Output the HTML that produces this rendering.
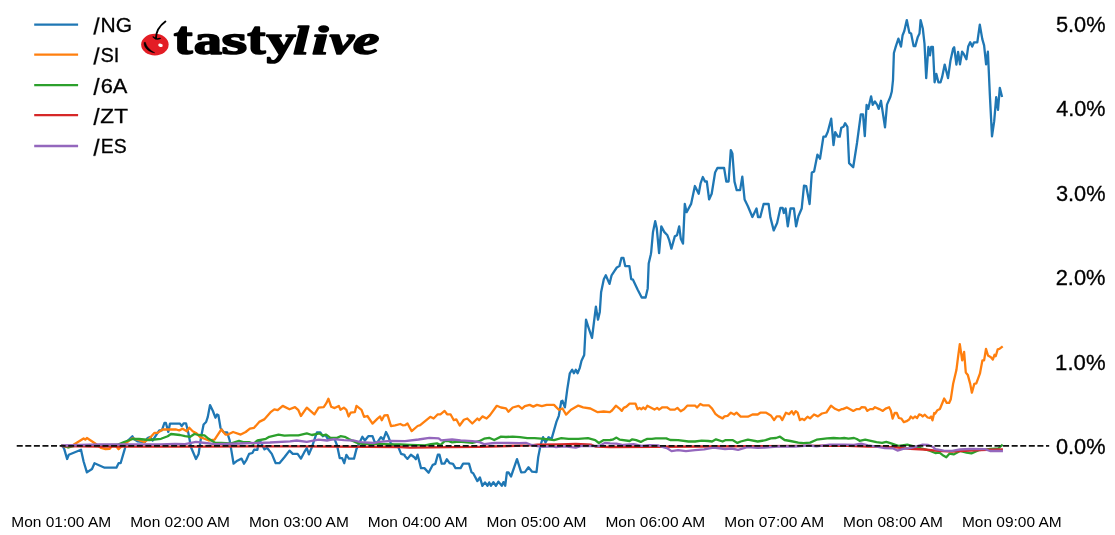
<!DOCTYPE html>
<html><head><meta charset="utf-8"><style>
html,body{margin:0;padding:0;background:#fff;}
body{width:1115px;height:535px;overflow:hidden;}
svg{display:block;}
text{font-family:"Liberation Sans",sans-serif;fill:#000;}
.t{filter:grayscale(1);}
</style></head><body>
<svg width="1115" height="535" viewBox="0 0 1115 535">
<rect width="1115" height="535" fill="#fff"/>

<g fill="none" stroke-width="2.30" stroke-linejoin="round" stroke-linecap="square">
<polyline stroke="#1f77b4" points="62.5,445.5 64.2,448.9 67.1,459.0 68.8,454.8 81.0,449.7 83.6,461.5 86.9,472.4 92.0,469.0 94.5,463.2 104.6,467.7 116.4,467.7 118.6,463.2 120.6,463.2 124.8,448.9 126.5,442.0 132.4,436.2 134.0,439.0 137.4,441.3 145.0,442.0 147.5,438.0 150.0,437.0 152.6,440.5 156.0,435.4 159.3,430.4 161.9,430.4 164.4,423.0 165.9,423.0 168.3,432.0 170.0,423.6 180.0,423.6 181.7,426.1 183.8,423.3 186.0,423.3 188.5,433.7 191.0,447.2 196.0,459.0 198.6,454.0 201.1,437.0 203.6,424.5 206.1,422.0 207.8,416.9 210.0,405.1 212.9,411.0 215.4,417.7 217.1,414.4 218.4,415.2 220.5,427.8 223.8,432.4 227.2,432.4 229.7,440.5 231.4,450.6 233.6,463.7 237.3,460.7 241.5,458.6 244.0,463.7 246.5,459.8 249.1,453.9 252.4,453.0 254.1,449.7 257.4,449.8 258.7,441.8 260.5,441.8 264.5,449.4 267.0,447.7 271.8,453.9 275.7,463.2 279.4,463.2 284.4,457.3 289.5,450.6 292.8,453.9 293.4,453.9 297.6,453.9 300.9,458.6 304.3,452.2 306.8,448.0 308.9,454.3 311.9,447.2 314.4,439.6 316.9,432.4 320.3,432.4 322.8,436.2 325.4,435.0 327.9,439.1 334.6,439.1 337.1,445.5 339.7,458.1 342.2,458.1 344.2,463.2 346.4,454.8 348.9,458.6 354.0,458.6 356.5,448.9 359.0,443.8 362.4,436.8 364.9,440.5 368.3,436.2 372.5,436.2 375.0,443.0 377.5,442.1 380.9,437.1 383.4,439.6 386.0,432.0 388.5,437.1 391.0,443.8 394.4,445.5 397.7,445.5 401.1,453.9 404.5,454.8 405.0,456.3 407.5,458.9 410.9,454.7 414.3,457.2 415.9,459.2 417.6,454.7 421.0,468.1 424.4,468.1 428.6,472.7 432.8,464.8 435.3,463.9 437.8,454.7 439.5,454.7 441.7,463.6 444.6,463.6 446.8,459.2 449.6,463.1 453.0,463.9 455.5,468.1 460.6,468.1 463.1,463.6 469.0,463.6 471.5,472.3 473.2,473.2 477.4,481.1 479.9,477.4 482.4,485.8 485.0,482.4 487.5,485.8 489.2,482.4 490.9,485.8 493.4,482.1 495.9,485.8 498.4,481.6 501.8,485.8 503.5,482.1 505.2,485.8 506.9,472.3 508.5,472.3 511.0,476.5 517.0,459.2 521.2,472.3 524.9,472.1 528.5,467.3 532.1,471.7 536.5,472.1 538.2,457.1 540.6,445.0 543.1,437.2 545.5,442.5 548.6,437.2 551.6,438.9 554.0,430.4 556.4,421.9 558.8,415.8 561.3,401.3 562.5,400.8 564.9,407.3 567.3,389.1 569.8,373.3 572.2,369.7 573.9,373.3 575.8,369.7 577.6,373.3 579.7,368.1 581.5,360.8 584.2,355.0 586.0,319.7 588.1,326.3 592.0,338.0 595.9,306.7 598.0,319.7 599.8,311.9 601.1,292.3 603.8,279.2 605.8,275.3 609.5,283.9 611.6,275.3 614.2,271.4 616.8,267.5 619.4,266.1 621.5,257.8 623.4,257.8 625.2,266.1 629.4,266.1 631.2,279.2 633.0,279.7 637.7,289.7 641.7,297.5 645.6,297.5 647.7,288.4 648.7,263.5 650.8,254.4 651.2,252.1 653.0,231.9 655.2,221.2 656.8,228.6 659.1,253.2 661.3,226.3 664.2,231.9 667.4,235.3 669.1,239.8 671.4,248.7 674.8,236.4 677.0,235.3 679.2,226.3 680.8,238.7 683.0,243.6 684.8,203.9 686.6,212.2 691.1,203.9 694.9,186.0 698.7,193.8 700.5,183.7 702.8,177.0 705.0,181.5 706.8,181.5 709.1,199.4 711.7,193.8 715.1,172.5 717.4,168.0 724.1,168.0 726.3,181.5 728.6,181.5 730.8,150.1 732.4,153.5 734.5,181.6 736.7,190.1 740.1,190.1 742.3,176.6 744.6,199.5 747.9,206.2 752.4,217.0 756.5,208.5 758.0,217.0 760.3,217.0 763.6,204.0 768.6,204.0 770.4,217.4 773.7,230.4 777.1,223.0 780.4,208.0 782.7,208.0 783.8,213.0 785.6,208.5 787.8,226.4 790.5,208.5 793.9,208.5 796.1,226.4 798.4,216.3 801.7,208.5 804.0,185.6 806.2,186.1 809.6,204.0 811.8,172.6 814.1,171.5 817.4,154.7 819.7,158.0 820.0,158.7 823.4,136.7 825.6,136.7 827.8,131.7 831.2,118.7 833.5,145.2 835.2,132.2 837.9,136.7 839.7,136.7 841.3,127.7 843.5,126.8 845.1,123.2 847.4,126.8 849.1,163.1 853.2,167.2 857.0,143.0 860.8,114.3 863.0,114.3 864.8,136.2 866.6,104.8 868.2,108.9 871.1,96.3 872.7,104.8 874.9,101.5 877.2,104.8 878.7,108.9 881.0,100.8 885.0,127.3 887.0,104.6 890.4,96.8 891.8,91.5 893.0,80.0 893.9,53.0 895.9,46.1 898.4,38.6 901.0,46.6 902.6,35.2 904.3,31.0 906.8,20.1 908.5,28.5 909.4,32.7 911.1,33.5 913.6,46.1 915.3,46.1 917.8,36.9 919.5,33.5 920.6,20.1 922.8,28.5 924.5,43.6 926.2,78.1 928.4,47.0 930.0,55.4 931.2,47.0 932.9,47.0 934.6,82.3 936.3,73.9 938.4,82.3 940.5,82.3 942.1,77.2 944.7,64.6 948.0,78.1 950.5,60.4 953.1,48.7 954.2,47.3 956.4,64.6 958.1,52.0 960.0,64.3 962.1,51.7 963.9,54.2 966.4,59.3 968.2,46.6 970.2,42.3 972.2,46.6 974.0,42.3 977.3,42.3 979.8,24.7 982.3,39.1 984.1,45.4 986.1,64.3 987.9,51.7 989.9,95.9 992.0,136.4 994.2,121.2 996.2,97.2 998.0,109.8 999.8,87.8 1001.8,95.9"/>
<polyline stroke="#ff7f0e" points="62.5,445.5 67.6,447.2 73.5,444.7 83.6,438.4 85.3,439.6 86.9,438.0 94.5,443.0 101.2,448.0 105.5,449.2 109.7,448.9 112.2,445.5 115.6,445.5 118.6,449.2 120.6,447.2 127.3,442.0 132.4,438.4 137.4,439.6 144.2,442.0 149.2,438.8 154.3,432.9 157.6,432.9 162.7,429.5 176.2,429.5 179.2,430.4 182.6,428.7 186.8,431.2 189.3,427.8 192.7,431.2 196.0,432.9 200.3,437.1 204.5,438.8 208.7,440.5 214.6,439.6 217.9,434.6 221.3,429.5 225.5,434.6 228.0,434.6 233.1,432.0 240.7,434.6 245.7,432.0 249.9,428.7 254.1,427.8 259.2,421.9 264.2,419.4 271.0,411.8 274.3,409.3 277.7,410.2 282.7,405.9 289.5,409.3 295.0,407.1 298.4,410.2 300.9,416.0 306.8,407.6 314.4,414.4 318.6,407.6 323.7,407.1 326.2,403.4 328.4,398.7 331.2,406.8 334.6,408.1 338.8,405.9 340.5,409.8 343.9,407.6 346.4,409.8 348.6,416.5 350.6,412.7 354.8,412.2 356.5,405.9 361.5,409.8 364.1,416.9 367.4,416.0 372.5,423.6 375.0,421.1 377.5,418.6 380.1,416.5 381.8,420.3 384.3,415.5 387.6,415.2 391.0,426.1 395.2,425.3 400.3,424.0 402.8,425.3 405.0,425.2 407.5,423.5 411.7,431.1 417.6,426.0 420.2,425.2 430.3,416.8 433.6,418.5 437.8,414.3 440.4,414.3 444.6,410.9 447.1,414.3 450.5,414.3 453.8,420.2 456.3,419.3 459.7,425.5 463.9,419.8 467.3,418.5 472.3,423.5 477.4,418.5 479.1,420.2 482.4,416.4 486.6,418.5 490.0,415.1 496.8,405.8 501.0,407.5 506.0,408.4 508.5,411.7 512.7,407.5 518.6,405.8 522.0,408.7 524.9,406.1 529.7,404.9 533.3,406.6 537.0,404.9 541.8,406.1 546.7,404.9 554.0,404.9 558.8,409.8 562.5,408.5 566.1,414.6 571.0,409.8 578.3,405.6 583.1,407.3 590.4,408.5 597.7,412.2 603.7,411.5 609.8,412.2 612.0,410.5 615.9,405.7 619.2,408.3 621.8,410.9 623.7,407.9 626.4,406.6 629.6,403.6 635.5,403.6 637.5,409.2 639.5,407.9 641.4,409.2 643.4,407.5 645.3,409.2 647.3,405.7 650.6,407.5 654.5,409.6 657.1,407.9 659.1,409.6 662.4,407.3 666.9,407.3 670.2,409.6 674.8,409.6 677.4,407.9 680.7,411.2 684.0,409.2 687.2,405.7 695.1,405.7 697.0,407.5 700.3,404.0 702.9,405.3 708.8,405.3 712.1,408.6 715.4,413.8 718.6,416.4 722.6,418.4 724.5,416.4 727.6,415.8 730.9,412.7 734.2,414.5 736.5,412.7 740.7,416.7 747.9,416.7 752.5,414.5 757.7,414.5 760.3,412.7 766.2,412.7 770.8,415.4 774.1,420.1 776.7,416.4 780.0,416.4 782.3,420.1 785.9,412.7 789.1,414.1 791.8,411.2 793.7,414.5 795.7,411.2 797.6,412.7 799.9,420.1 802.2,418.8 804.2,420.1 807.5,416.7 810.1,418.4 814.0,414.5 817.9,416.4 821.9,413.5 826.4,412.5 831.0,405.7 835.0,408.8 838.9,410.5 841.5,409.2 842.8,409.1 847.0,407.4 853.3,410.9 856.8,409.1 859.6,409.1 861.7,407.2 865.2,407.4 867.3,410.9 870.1,409.1 872.9,409.1 875.0,407.2 879.3,409.1 882.8,410.9 885.6,408.6 889.1,407.2 890.8,410.5 892.6,418.6 894.7,413.0 896.8,413.0 898.9,418.0 901.4,418.6 903.8,422.2 906.6,421.2 909.4,419.3 910.8,416.5 912.9,418.4 915.0,416.5 917.1,418.0 919.2,414.4 921.3,415.1 922.7,416.5 924.8,414.7 927.6,417.5 929.7,418.0 931.1,416.5 932.5,420.3 934.2,413.0 935.0,413.8 937.4,410.2 939.9,409.0 944.2,398.5 946.7,402.9 949.1,402.9 950.8,399.2 953.2,383.4 956.4,370.1 958.1,356.7 959.8,344.1 962.2,360.4 964.1,351.9 965.8,372.5 967.8,374.9 970.2,383.9 971.9,392.7 974.3,383.9 976.3,383.4 979.9,373.7 982.4,360.4 984.1,360.4 986.0,348.9 988.0,355.5 990.9,357.2 992.8,359.6 994.5,354.8 995.7,356.2 997.7,349.4 999.4,348.9 1001.8,347.0"/>
<polyline stroke="#2ca02c" points="62.5,445.5 68.4,447.5 76.8,445.5 117.0,445.0 124.0,442.0 132.4,439.0 139.0,439.0 149.2,440.0 161.0,438.8 167.7,436.2 171.0,434.0 180.0,435.0 185.1,436.2 190.2,436.8 194.4,434.0 198.6,435.0 204.5,435.4 208.7,438.8 215.4,443.0 221.3,443.0 230.6,443.5 239.0,440.8 243.2,442.1 249.1,442.1 253.3,443.8 257.5,440.5 265.9,438.8 269.3,436.8 278.5,434.6 284.4,435.7 290.0,435.4 298.4,435.4 306.8,433.4 311.9,435.0 319.5,433.4 322.8,435.4 326.2,434.6 330.4,437.9 337.1,437.9 340.5,436.2 344.7,436.8 348.9,439.1 357.3,443.0 362.4,443.8 374.2,443.8 384.3,444.2 391.0,444.5 400.0,444.4 410.0,444.8 425.0,445.4 431.0,444.1 437.0,443.4 440.4,445.1 444.6,441.2 448.8,441.2 452.1,442.4 458.9,441.7 467.3,442.4 472.3,442.9 479.1,441.2 484.1,438.7 489.2,437.8 494.2,440.0 501.0,436.6 506.0,437.0 512.7,436.6 520.0,437.2 527.3,438.2 534.6,438.2 544.3,438.9 554.0,440.1 561.3,438.2 568.5,438.9 578.3,438.9 588.0,438.2 595.2,440.1 598.9,443.0 603.7,440.1 610.0,440.0 612.6,439.7 616.5,437.6 619.8,439.7 629.6,441.0 632.3,439.3 636.2,440.2 640.8,441.9 644.0,440.2 647.3,438.9 651.9,438.9 655.8,438.4 666.3,438.4 670.2,440.0 678.1,440.2 688.5,441.5 695.1,441.5 701.6,440.6 708.2,441.0 712.1,441.5 716.0,439.3 722.6,441.5 725.2,440.2 732.9,440.2 737.4,442.9 740.7,441.5 747.9,439.7 757.7,441.5 765.6,440.2 770.8,438.4 776.0,438.0 780.0,436.7 784.6,440.0 790.4,441.0 798.3,442.6 803.5,443.2 810.1,442.6 816.6,439.7 827.1,438.4 833.6,438.0 840.0,438.3 844.2,438.0 848.4,438.6 854.0,438.0 856.8,439.0 859.6,440.8 865.2,439.7 870.8,440.8 876.5,442.2 882.1,442.8 886.3,441.8 891.9,443.6 898.9,446.0 907.3,444.6 912.9,446.0 921.3,448.4 929.7,450.6 935.3,453.0 939.5,452.6 943.7,455.8 946.3,457.2 949.4,453.7 953.6,454.4 960.0,450.9 966.6,452.7 971.4,453.4 978.7,450.2 990.9,449.0 998.2,448.5 1001.8,445.4"/>
<polyline stroke="#d62728" points="62.5,446.0 100.0,446.6 200.0,446.6 300.0,446.3 400.0,447.0 410.0,447.6 450.0,447.2 480.0,446.8 508.7,446.0 530.2,445.3 537.4,444.6 560.0,444.3 575.7,443.8 591.4,444.7 595.9,446.7 610.0,447.0 700.0,446.5 840.0,445.6 868.0,446.7 882.1,446.7 896.1,447.4 910.1,448.8 924.1,449.5 938.1,450.9 952.2,451.6 960.0,451.2 980.0,450.0 1001.8,449.5"/>
<polyline stroke="#9467bd" points="62.5,445.5 80.0,445.0 100.0,444.5 130.0,444.5 160.0,444.3 175.0,443.8 185.0,444.2 196.0,441.8 205.3,443.0 215.4,444.2 240.0,443.5 270.0,442.5 290.0,441.3 296.7,440.5 306.8,441.8 318.6,439.6 327.0,440.5 333.8,439.1 343.9,440.1 354.0,440.5 360.7,442.1 374.2,443.0 379.2,441.8 391.0,440.8 405.0,441.2 418.5,439.5 429.4,437.8 438.7,438.3 441.2,440.4 452.1,439.5 460.6,440.4 472.3,441.2 479.1,442.0 484.1,444.1 494.2,443.0 508.7,442.8 519.5,443.2 525.9,442.8 531.6,445.0 537.4,446.0 543.1,446.8 551.7,446.4 556.0,447.1 564.5,446.3 575.7,447.6 581.5,445.8 590.5,446.0 599.0,446.0 604.8,442.9 610.0,443.4 616.5,443.6 623.1,445.0 633.6,444.2 641.4,445.9 649.3,445.2 658.4,445.5 662.4,446.8 667.6,448.5 671.5,451.1 678.1,450.2 685.9,451.1 695.1,450.2 704.2,449.4 713.4,447.6 721.3,448.5 725.0,449.1 731.5,448.5 738.1,449.8 747.3,447.2 757.7,447.8 764.3,447.6 777.4,446.5 794.4,446.5 808.8,445.5 816.6,446.3 829.7,444.6 845.0,444.6 854.0,445.0 861.0,443.6 868.0,445.3 876.5,446.7 884.9,448.1 893.3,448.4 897.5,450.6 903.1,448.8 910.1,448.1 915.7,446.7 922.7,444.6 928.3,445.0 932.5,446.7 935.3,449.2 943.7,450.6 952.2,450.9 960.0,449.5 970.0,449.0 985.0,449.2 990.0,451.0 1001.8,451.0"/>
</g>
<line x1="16.73" y1="445.9" x2="1049.2" y2="445.9" stroke="#111" stroke-width="1.7" stroke-dasharray="6.0 2.577"/>
<g class="t" stroke="#000" stroke-width="0.3">
<text x="1055.95" y="454.00" font-size="21.20" textLength="49.63" lengthAdjust="spacingAndGlyphs">0.0%</text>
<text x="1055.11" y="369.50" font-size="21.20" textLength="50.48" lengthAdjust="spacingAndGlyphs">1.0%</text>
<text x="1055.70" y="284.60" font-size="21.20" textLength="49.88" lengthAdjust="spacingAndGlyphs">2.0%</text>
<text x="1055.97" y="200.60" font-size="21.20" textLength="49.60" lengthAdjust="spacingAndGlyphs">3.0%</text>
<text x="1056.30" y="116.00" font-size="21.20" textLength="49.27" lengthAdjust="spacingAndGlyphs">4.0%</text>
<text x="1055.93" y="32.20" font-size="21.20" textLength="49.65" lengthAdjust="spacingAndGlyphs">5.0%</text>
<text x="11.34" y="526.70" font-size="14.50" textLength="99.82" lengthAdjust="spacingAndGlyphs" stroke-width="0">Mon 01:00 AM</text>
<text x="130.16" y="526.70" font-size="14.50" textLength="99.82" lengthAdjust="spacingAndGlyphs" stroke-width="0">Mon 02:00 AM</text>
<text x="248.98" y="526.70" font-size="14.50" textLength="99.82" lengthAdjust="spacingAndGlyphs" stroke-width="0">Mon 03:00 AM</text>
<text x="367.80" y="526.70" font-size="14.50" textLength="99.82" lengthAdjust="spacingAndGlyphs" stroke-width="0">Mon 04:00 AM</text>
<text x="486.62" y="526.70" font-size="14.50" textLength="99.82" lengthAdjust="spacingAndGlyphs" stroke-width="0">Mon 05:00 AM</text>
<text x="605.44" y="526.70" font-size="14.50" textLength="99.82" lengthAdjust="spacingAndGlyphs" stroke-width="0">Mon 06:00 AM</text>
<text x="724.26" y="526.70" font-size="14.50" textLength="99.82" lengthAdjust="spacingAndGlyphs" stroke-width="0">Mon 07:00 AM</text>
<text x="843.08" y="526.70" font-size="14.50" textLength="99.82" lengthAdjust="spacingAndGlyphs" stroke-width="0">Mon 08:00 AM</text>
<text x="961.90" y="526.70" font-size="14.50" textLength="99.82" lengthAdjust="spacingAndGlyphs" stroke-width="0">Mon 09:00 AM</text>
<polygon points="93.4,34.45 95.3,34.45 99.6,17.45 97.7,17.45" fill="#000"/>
<text x="100.58" y="32.05" font-size="20.90" textLength="31.49" lengthAdjust="spacingAndGlyphs">NG</text>
<polygon points="93.4,64.45 95.3,64.45 99.6,47.45 97.7,47.45" fill="#000"/>
<text x="100.49" y="62.05" font-size="20.90" textLength="18.96" lengthAdjust="spacingAndGlyphs">SI</text>
<polygon points="93.4,94.95 95.3,94.95 99.6,77.95 97.7,77.95" fill="#000"/>
<text x="100.69" y="92.55" font-size="20.90" textLength="26.75" lengthAdjust="spacingAndGlyphs">6A</text>
<polygon points="93.4,125.05 95.3,125.05 99.6,108.05 97.7,108.05" fill="#000"/>
<text x="100.38" y="122.65" font-size="20.90" textLength="27.53" lengthAdjust="spacingAndGlyphs">ZT</text>
<polygon points="93.4,155.85 95.3,155.85 99.6,138.85 97.7,138.85" fill="#000"/>
<text x="100.71" y="153.45" font-size="20.90" textLength="25.88" lengthAdjust="spacingAndGlyphs">ES</text>
</g>
<line x1="34.2" y1="24.6" x2="78.1" y2="24.6" stroke="#1f77b4" stroke-width="2.3"/>
<line x1="34.2" y1="54.6" x2="78.1" y2="54.6" stroke="#ff7f0e" stroke-width="2.3"/>
<line x1="34.2" y1="85.1" x2="78.1" y2="85.1" stroke="#2ca02c" stroke-width="2.3"/>
<line x1="34.2" y1="115.2" x2="78.1" y2="115.2" stroke="#d62728" stroke-width="2.3"/>
<line x1="34.2" y1="146.0" x2="78.1" y2="146.0" stroke="#9467bd" stroke-width="2.3"/>
<g>
<ellipse cx="154.9" cy="44.6" rx="13.75" ry="10.8" fill="#e31d25"/>
<path d="M155.9,38.6 C156.0,32.5 158.6,26.5 165.4,21.6" fill="none" stroke="#000" stroke-width="1.9" stroke-linecap="round"/>
<path d="M153.2,36.9 Q155.6,40.0 160.2,38.4" fill="none" stroke="#000" stroke-width="1.4" stroke-linecap="round"/>
<ellipse cx="160.5" cy="45.3" rx="2.3" ry="1.65" fill="#fff" transform="rotate(15 160.5 45.3)"/>
<path d="M144.0,42.4 C143.9,47.6 148.0,51.8 154.8,52.8 C150.0,50.2 146.6,47.2 145.4,42.3 Z" fill="#000" stroke="#000" stroke-width="0.4"/>
</g>
<g class="t" style="font-family:'Liberation Serif',serif" stroke="#000" stroke-width="1.60" stroke-linejoin="round">
<text x="173.79" y="54.25" font-size="46.27" textLength="18.86" lengthAdjust="spacingAndGlyphs" font-weight="bold" style="font-family:'Liberation Serif',serif">t</text>
<text x="193.68" y="54.29" font-size="41.96" textLength="28.17" lengthAdjust="spacingAndGlyphs" font-weight="bold" style="font-family:'Liberation Serif',serif">a</text>
<text x="221.61" y="54.29" font-size="41.79" textLength="25.60" lengthAdjust="spacingAndGlyphs" font-weight="bold" style="font-family:'Liberation Serif',serif">s</text>
<text x="247.31" y="54.25" font-size="46.27" textLength="18.33" lengthAdjust="spacingAndGlyphs" font-weight="bold" style="font-family:'Liberation Serif',serif">t</text>
<text x="266.43" y="54.29" font-size="43.12" textLength="29.24" lengthAdjust="spacingAndGlyphs" font-weight="bold" style="font-family:'Liberation Serif',serif">y</text>
<text x="293.18" y="54.20" font-size="39.78" textLength="15.40" lengthAdjust="spacingAndGlyphs" font-weight="bold" font-style="italic" style="font-family:'Liberation Serif',serif">l</text>
<text x="312.01" y="54.20" font-size="40.50" textLength="16.35" lengthAdjust="spacingAndGlyphs" font-weight="bold" font-style="italic" style="font-family:'Liberation Serif',serif">i</text>
<text x="329.79" y="54.01" font-size="40.06" textLength="24.23" lengthAdjust="spacingAndGlyphs" font-weight="bold" font-style="italic" style="font-family:'Liberation Serif',serif">v</text>
<text x="353.01" y="54.39" font-size="42.21" textLength="26.29" lengthAdjust="spacingAndGlyphs" font-weight="bold" font-style="italic" style="font-family:'Liberation Serif',serif">e</text>
</g>
</svg>
</body></html>
